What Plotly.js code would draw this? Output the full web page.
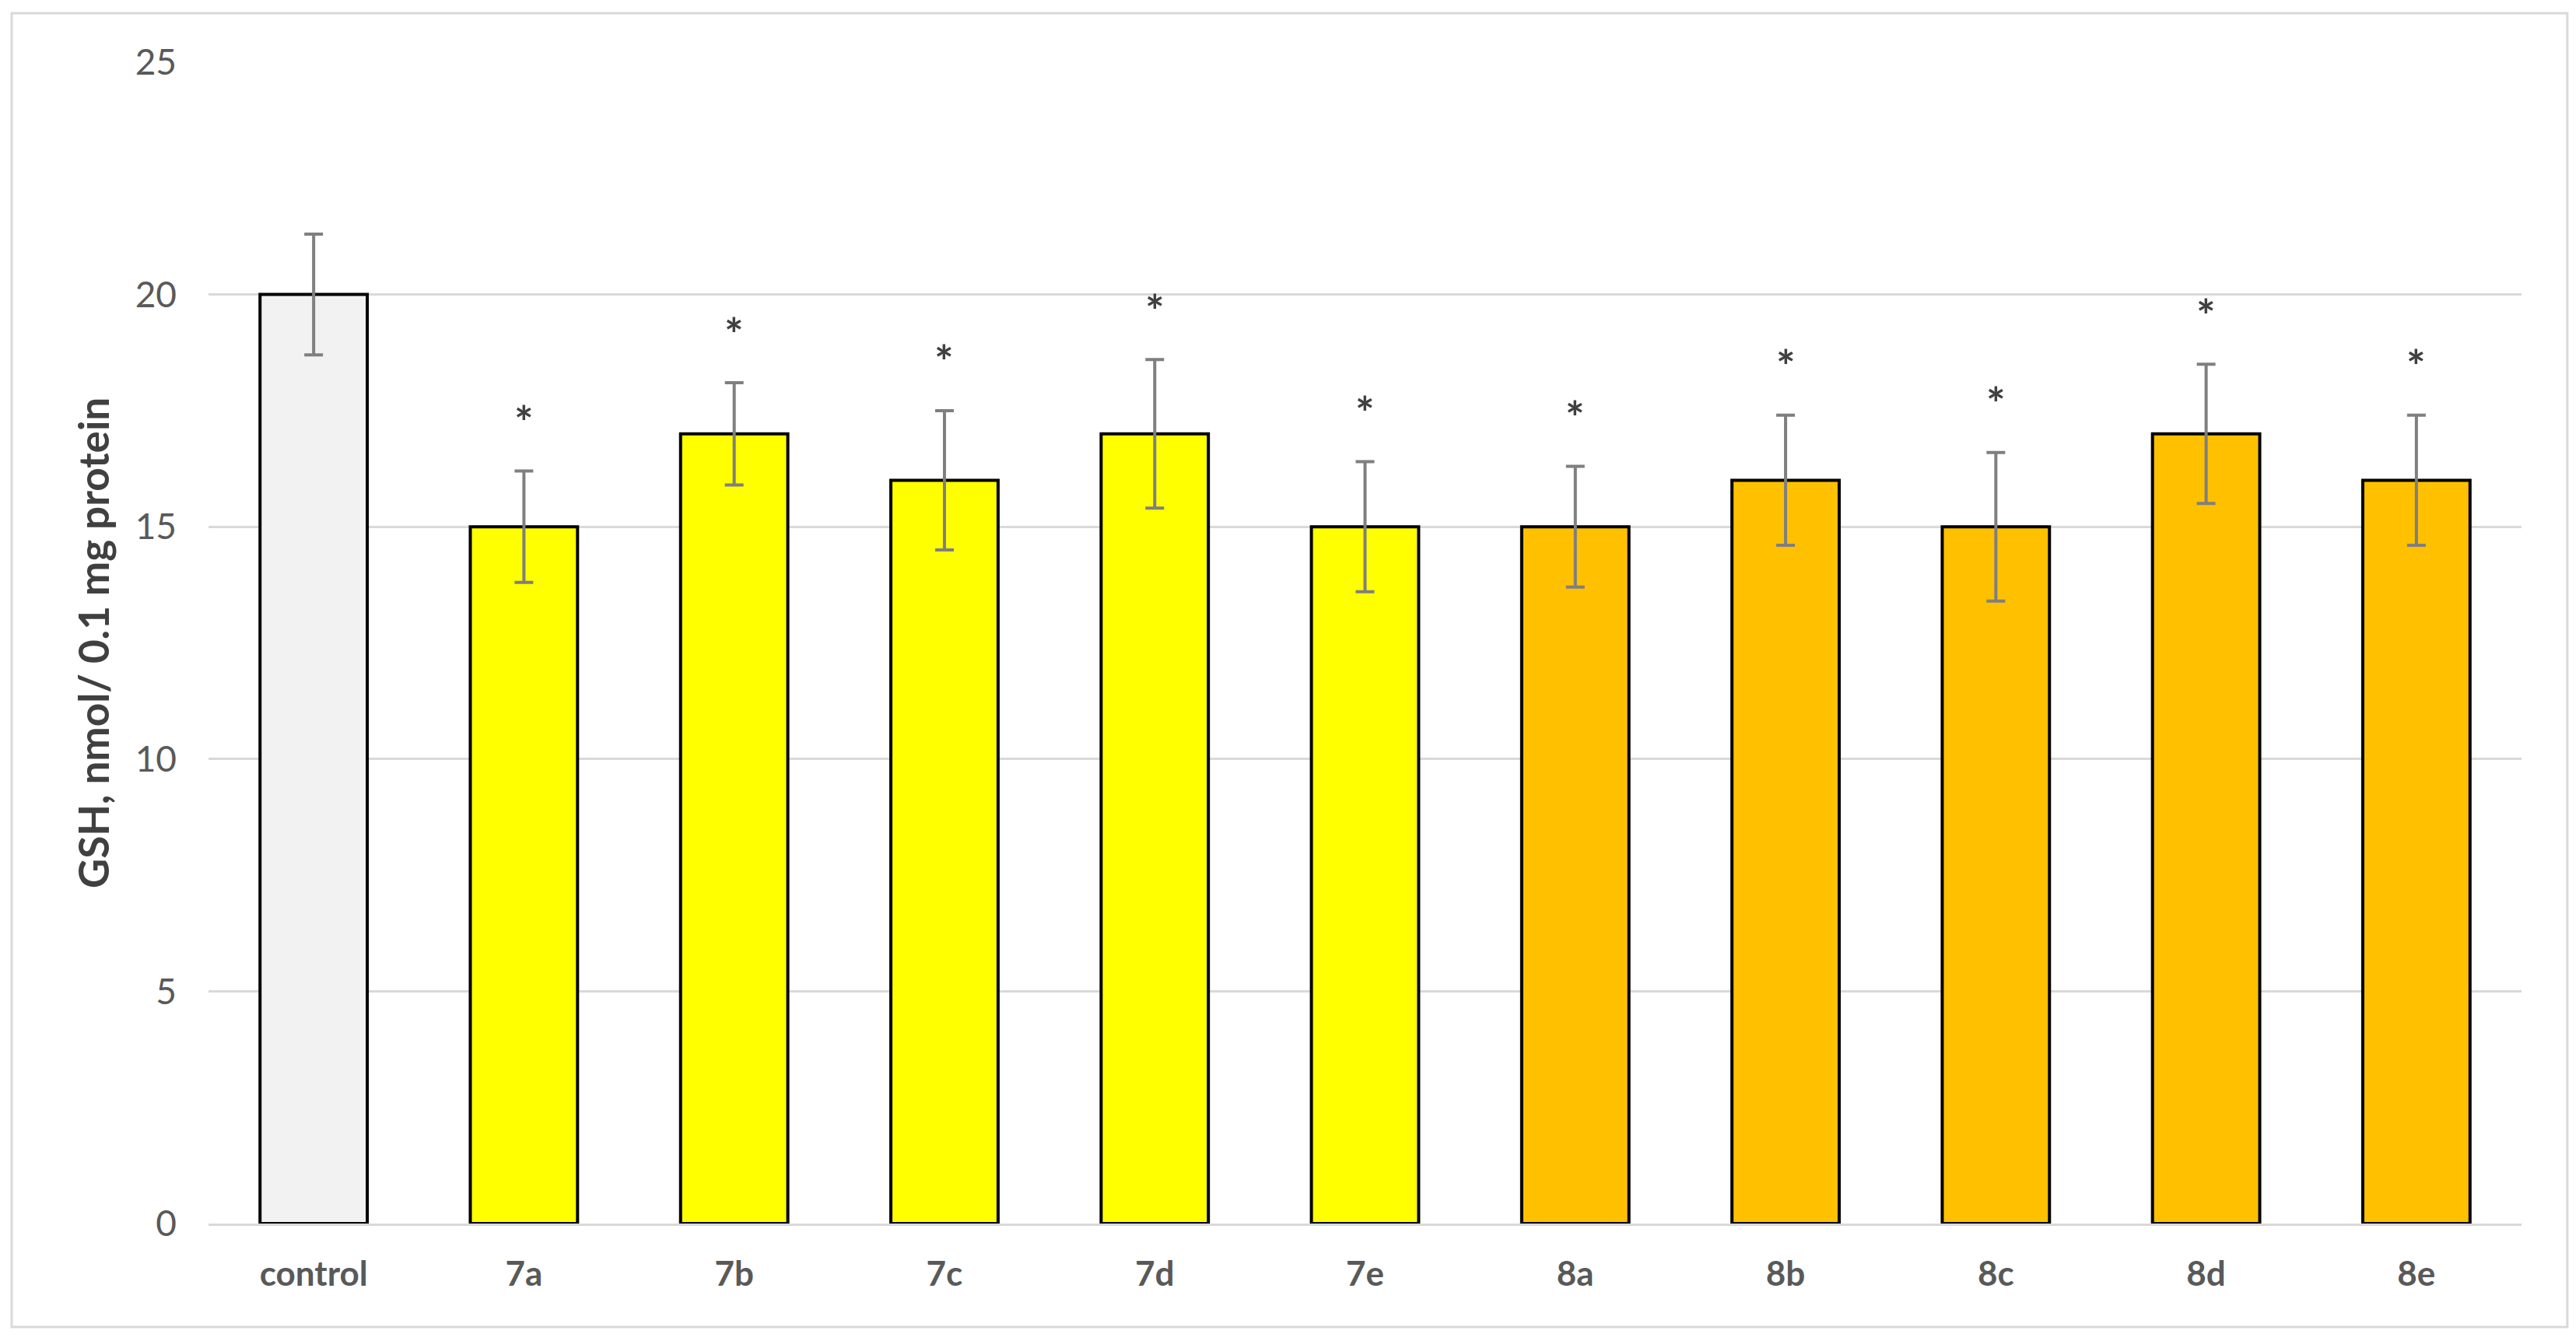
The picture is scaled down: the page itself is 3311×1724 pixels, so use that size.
<!DOCTYPE html>
<html>
<head>
<meta charset="utf-8">
<script src="https://cdn.plot.ly/plotly-3.0.1.min.js"></script>
<style>html,body{margin:0;padding:0;background:#fff;}#chart{width:3311px;height:1724px;}</style>
</head>
<body>
<div id="chart"></div>
<script>
const categories = ["control", "7a", "7b", "7c", "7d", "7e", "8a", "8b", "8c", "8d", "8e"];
const gshValues = [20, 15, 17, 16, 17, 15, 15, 16, 15, 17, 16];
const gshErrors = [1.3, 1.2, 1.1, 1.5, 1.6, 1.4, 1.3, 1.4, 1.6, 1.5, 1.4];
const significant = [false, true, true, true, true, true, true, true, true, true, true];
const yTicks = [0, 5, 10, 15, 20, 25];

const barColors = categories.map(c => c === "control" ? "#F2F2F2" : (c.startsWith("7") ? "#FFFF00" : "#FFC000"));
const font = "Lato, 'Open Sans', sans-serif";

const trace = {
  type: "bar",
  x: categories,
  y: gshValues,
  marker: {color: barColors, line: {color: "#000000", width: 4}},
  width: 0.51,
  error_y: {type: "data", array: gshErrors, visible: true, color: "#7F7F7F", thickness: 4, width: 12},
  hoverinfo: "x+y"
};

const annotations = categories.map((c, i) => significant[i] ? {
  x: c, y: gshValues[i] + gshErrors[i], xref: "x", yref: "y",
  text: "*", showarrow: false, yanchor: "middle", yshift: 64,
  font: {family: font, size: 58, color: "#404040", weight: "bold"}
} : null).filter(a => a);

const layout = {
  width: 3311, height: 1724,
  margin: {l: 268, r: 70, t: 80, b: 151},
  paper_bgcolor: "#FFFFFF", plot_bgcolor: "#FFFFFF",
  showlegend: false,
  bargap: 0.49,
  font: {family: font, color: "#595959"},
  xaxis: {
    type: "category",
    tickfont: {family: font, size: 44, color: "#595959", weight: "bold"},
    showgrid: false, zeroline: false,
    showline: true, linecolor: "#D9D9D9", linewidth: 3,
    ticks: "", ticklabelstandoff: 24
  },
  yaxis: {
    range: [0, 25], tickvals: yTicks, ticktext: yTicks.map(String),
    tickfont: {family: font, size: 46, color: "#595959"},
    showgrid: true, gridcolor: "#D9D9D9", gridwidth: 3,
    zeroline: false, showline: false, ticks: "", ticklabelstandoff: 40,
    title: {text: "GSH, nmol/ 0.1 mg protein", standoff: 16,
      font: {family: font, size: 53, color: "#404040", weight: "bold"}}
  },
  annotations: annotations,
  shapes: [{
    type: "rect", xref: "paper", yref: "paper",
    x0: -0.0851, x1: 1.0198, y0: -0.0891, y1: 1.0422,
    line: {color: "#D9D9D9", width: 3}, fillcolor: "rgba(0,0,0,0)", layer: "below"
  }]
};

Plotly.newPlot("chart", [trace], layout, {displayModeBar: false, staticPlot: true});
</script>
</body>
</html>
